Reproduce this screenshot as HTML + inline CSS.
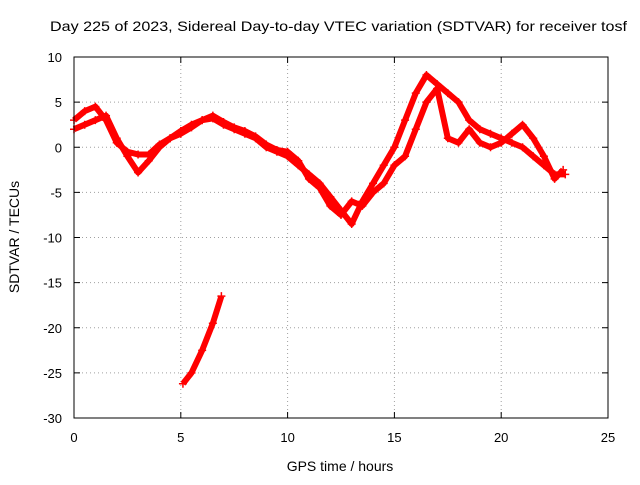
<!DOCTYPE html>
<html><head><meta charset="utf-8"><style>
body{margin:0;background:#fff}
svg{font-family:"Liberation Sans",sans-serif;font-size:13px}
</style></head><body>
<svg id="chart" width="640" height="480">
<rect width="640" height="480" fill="#fff"/>
<text x="50" y="31" font-size="14" textLength="577" lengthAdjust="spacingAndGlyphs">Day 225 of 2023, Sidereal Day-to-day VTEC variation (SDTVAR) for receiver tosf</text>
<text x="340" y="471" text-anchor="middle" font-size="14">GPS time / hours</text>
<text transform="translate(19,237) rotate(-90)" text-anchor="middle" font-size="14">SDTVAR / TECUs</text>
<g id="grid"></g><g id="ticks"></g><g id="series"></g>
<rect x="74" y="57" width="534" height="361" fill="none" stroke="#000"/>
</svg>
<script>
const xTicks=[0,5,10,15,20,25];
const yTicks=[10,5,0,-5,-10,-15,-20,-25,-30];
const trackAx=[0,0.5,1,1.5,2,2.5,3,3.5,4,4.5,5,5.5,6,6.5,7,7.5,8,8.5,9,9.5,10,10.5,11,11.5,12,12.5,13,13.5,14,14.5,15,15.5,16,16.5,17,17.5,18,18.5,19,19.5,20,20.5,21,21.5,22,22.5,23];
const trackAy=[2,2.5,3,3.5,1,-1,-2.8,-1.5,0,1,1.8,2.5,3,3.2,2.5,2,1.5,1,0,-0.5,-1,-2,-3,-4,-5.5,-7,-8.5,-6,-4,-2,0,3,6,8,7,6,5,3,2,1.5,1,0.5,0,-1,-2,-3,-3];
const trackBx=[0,0.5,1,1.5,2,2.5,3,3.5,4,4.5,5,5.5,6,6.5,7,7.5,8,8.5,9,9.5,10,10.5,11,11.5,12,12.5,13,13.5,14,14.5,15,15.5,16,16.5,17,17.5,18,18.5,19,19.5,20,20.5,21,21.5,22,22.5,22.9];
const trackBy=[3,4,4.5,3,0.5,-0.5,-0.8,-0.8,0.3,1,1.5,2.2,3,3.5,2.8,2.2,1.8,1.2,0.3,-0.3,-0.5,-1.5,-3.5,-4.5,-6.5,-7.5,-6,-6.5,-5,-4,-2,-1,2,5,6.5,1,0.5,2,0.5,0,0.5,1.5,2.5,1,-1,-3.5,-2.5];
const trackCx=[5.1,5.5,6,6.5,6.9];
const trackCy=[-26.2,-25,-22.5,-19.5,-16.5];
const X=v=>74+v*(534/25), Y=v=>57+(10-v)*(361/40);
const NS="http://www.w3.org/2000/svg";
function mk(t,a,p){const e=document.createElementNS(NS,t);for(const k in a)e.setAttribute(k,a[k]);document.getElementById(p).appendChild(e);return e;}
xTicks.forEach(v=>{
 if(v>0&&v<25){const g=mk('line',{x1:X(v),x2:X(v),y1:57,y2:418,stroke:'#a0a0a0','stroke-dasharray':'1,3'},'grid');
 }
 const t=mk('text',{x:X(v),y:442,'text-anchor':'middle'},'ticks');t.textContent=v;
 
 mk('line',{x1:X(v),x2:X(v),y1:418,y2:412,stroke:'#000'},'ticks');
 mk('line',{x1:X(v),x2:X(v),y1:57,y2:63,stroke:'#000'},'ticks');
});
yTicks.forEach(v=>{
 if(v<10&&v>-30){const g=mk('line',{x1:74,x2:608,y1:Y(v),y2:Y(v),stroke:'#a0a0a0','stroke-dasharray':'1,3'},'grid');
 }
 const t=mk('text',{x:62,y:Y(v)+5,'text-anchor':'end'},'ticks');t.textContent=v;
 
 mk('line',{x1:74,x2:80,y1:Y(v),y2:Y(v),stroke:'#000'},'ticks');
 mk('line',{x1:602,x2:608,y1:Y(v),y2:Y(v),stroke:'#000'},'ticks');
});
function draw(xs,ys,name){
 const pts=xs.map((x,i)=>X(x)+','+Y(ys[i])).join(' ');
 const l=mk('polyline',{points:pts,fill:'none',stroke:'#f00','stroke-width':6,'stroke-linejoin':'round'},'series');
 
 xs.forEach((x,i)=>{const cx=X(x),cy=Y(ys[i]);
  const p=mk('path',{d:`M${cx-4},${cy}h8M${cx},${cy-4}v8`,stroke:'#f00','stroke-width':1.5},'series');
  });
}
draw(trackAx,trackAy,'series-track-a');
draw(trackBx,trackBy,'series-track-b');
draw(trackCx,trackCy,'series-track-c');
</script>
</body></html>
